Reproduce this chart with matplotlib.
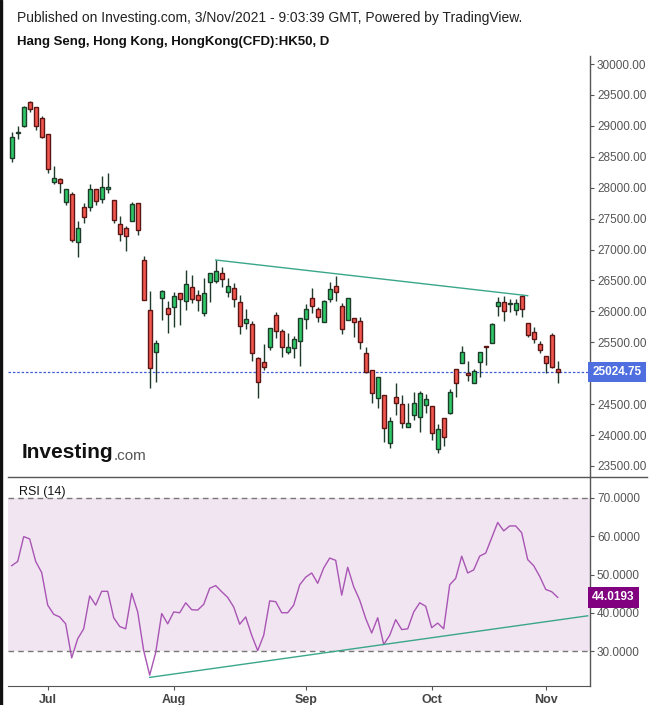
import matplotlib
matplotlib.use("Agg")
import matplotlib.pyplot as plt
import numpy as np

plt.rcParams['font.family'] = ['Liberation Sans', 'DejaVu Sans']

# daily OHLC, Jun 23 - Nov 3 2021 (trading days only)
opens = [28475, 28880, 29003, 29381, 29300, 29122, 28864, 28097, 28136, 27774,
         27893, 27127, 27683, 27693, 27974, 27813, 27974, 27796, 27408, 27344,
         27467, 27748, 26831, 26018, 25348, 26221, 26050, 26066, 26293, 26163,
         26390, 26270, 25969, 26470, 26496, 26626, 26309, 26373, 26147, 25807,
         25791, 25242, 25177, 25429, 25937, 25678, 25339, 25413, 25526, 25872,
         26212, 26034, 25833, 26205, 26406, 26082, 25866, 25888, 25840, 25322,
         25047, 24595, 24643, 23867, 24621, 24498, 24135, 24330, 24287, 24491,
         24475, 23770, 24271, 24352, 25064, 25161, 24999, 24837, 25187, 25436,
         25484, 26082, 26147, 26115, 26027, 26244, 25807, 25662, 25468, 25274,
         25613, 25064]
highs = [28896, 28998, 29321, 29402, 29300, 29160, 28864, 28351, 28152, 27974,
         27926, 27462, 27748, 28060, 27974, 28189, 28243, 27796, 27543, 27381,
         27764, 27748, 26896, 26330, 25537, 26346, 26173, 26314, 26293, 26669,
         26588, 26346, 26535, 26616, 26831, 26713, 26535, 26454, 26265, 26034,
         25845, 25258, 25473, 25727, 25990, 25710, 25646, 25602, 25888, 26120,
         26373, 26076, 26184, 26475, 26572, 26141, 26212, 25888, 25905, 25419,
         25047, 24934, 24643, 24287, 24837, 24648, 24514, 24692, 24713, 24659,
         24475, 24179, 24271, 24740, 25064, 25440, 25198, 25064, 25339, 25436,
         25807, 26228, 26249, 26200, 26200, 26265, 25807, 25743, 25521, 25274,
         25646, 25198]
lows = [28421, 28793, 28987, 29229, 28933, 28810, 28243, 28060, 27919, 27720,
        27127, 26884, 27434, 27628, 27720, 27758, 27910, 27424, 27143, 26981,
        27467, 27240, 26189, 24766, 24863, 25861, 25655, 25753, 25780, 26023,
        26141, 26011, 25930, 26157, 26454, 26399, 26228, 26066, 25630, 25715,
        25203, 24604, 25052, 25376, 25565, 25267, 25311, 25242, 25117, 25710,
        25969, 25833, 25833, 26157, 26173, 25634, 25866, 25591, 25397, 25009,
        24524, 24443, 23893, 23786, 24325, 24110, 24135, 24244, 24055, 24362,
        23920, 23705, 23828, 24341, 24611, 25161, 24879, 24837, 24944, 25133,
        25484, 25926, 25850, 25995, 25942, 25914, 25581, 25494, 25332, 24999,
        25080, 24837]
closes = [28825, 28900, 29300, 29268, 29003, 28825, 28307, 28152, 28081, 27974,
          27159, 27344, 27522, 27974, 27790, 28007, 28007, 27483, 27256, 27224,
          27737, 27321, 26189, 25090, 25489, 26325, 25963, 26244, 26196, 26438,
          26205, 26179, 26293, 26616, 26658, 26519, 26411, 26196, 25759, 25872,
          25322, 24853, 25106, 25727, 25688, 25419, 25419, 25549, 25888, 26034,
          26092, 25905, 26163, 26357, 26318, 25720, 26212, 25824, 25500, 25025,
          24676, 24934, 24110, 24223, 24514, 24190, 24200, 24514, 24676, 24579,
          24038, 24103, 23964, 24701, 24837, 25339, 24967, 25036, 25339, 25419,
          25791, 26147, 26011, 26131, 26131, 26044, 25623, 25554, 25381, 25161,
          25106, 25024.75]

rsi = [52.3, 53.4, 59.9, 59.3, 53.4, 50.5, 42.0, 39.6, 38.9, 37.1,
       28.2, 33.2, 35.8, 44.4, 42.0, 45.6, 45.6, 38.7, 36.4, 35.8,
       45.1, 40.2, 30.1, 23.7, 29.6, 39.8, 37.1, 40.2, 40.0, 42.6,
       40.8, 40.7, 42.2, 46.4, 47.1, 45.5, 44.0, 41.5, 37.0, 38.9,
       34.1, 30.1, 34.1, 43.1, 42.9, 40.0, 40.0, 42.0, 47.3, 49.3,
       50.4, 47.7, 51.7, 54.3, 53.7, 44.6, 51.9, 46.8, 43.3, 38.5,
       34.7, 38.7, 31.7, 34.1, 38.2, 35.6, 35.8, 40.2, 42.6, 41.7,
       36.1, 37.3, 35.8, 47.3, 49.0, 54.8, 50.4, 51.2, 54.8, 55.6,
       59.6, 63.6, 61.4, 62.7, 62.7, 60.9, 53.9, 52.3, 49.5, 46.1,
       45.5, 44.0193]

month_idx = [6, 27, 49, 70, 89]
month_labels = ['Jul', 'Aug', 'Sep', 'Oct', 'Nov']
# 25000 is hidden behind the last-price label
price_ticks = [23500, 24000, 24500, 25500, 26000, 26500, 27000, 27500,
               28000, 28500, 29000, 29500, 30000]
rsi_ticks = [30, 40, 50, 60, 70]

# drawn trendlines (index, value)
price_trend = ([34, 86], [26831, 26254])
rsi_trend = ([23, 96], [23.1, 39.2])

W, H = 654, 705
fig = plt.figure(figsize=(W / 100, H / 100), dpi=100)

def fx(px):
    return px / W

def fy(py):
    return 1 - py / H

left, right = 8, 590
ax = fig.add_axes([fx(left), fy(477), fx(right - left), fy(56) - fy(477)])
ax2 = fig.add_axes([fx(left), fy(686), fx(right - left), fy(477) - fy(686)], sharex=ax)

n = len(closes)
x = np.arange(n)
o = np.array(opens, float)
c = np.array(closes, float)
up = c >= o
green, red = '#2ec866', '#f2574f'
gedge, redge = '#1e3b2a', '#5c1515'

ax.vlines(x, lows, highs, color=gedge, lw=1.0, zorder=2)
bottoms = np.minimum(o, c)
heights = np.maximum(np.abs(c - o), 12)
ax.bar(x[up], heights[up], bottom=bottoms[up], width=0.72, color=green,
       edgecolor=gedge, linewidth=1.0, zorder=3)
ax.bar(x[~up], heights[~up], bottom=bottoms[~up], width=0.72, color=red,
       edgecolor=redge, linewidth=1.0, zorder=3)

ax.plot(price_trend[0], price_trend[1], color='#3aa68a', lw=1.0, zorder=4)
last = closes[-1]
ax.axhline(last, color='#3d5bd9', lw=0.9, ls=(0, (2, 1.5)), zorder=1)

ax.set_xlim((left - 11.7) / 6.0, (right - 11.7) / 6.0)
ax.set_ylim(23500 - 11 * 16.17, 23500 + 410 * 16.17)

for a in (ax, ax2):
    for s in ('left', 'top', 'bottom'):
        a.spines[s].set_visible(False)
    a.spines['right'].set_color('#555555')
    a.spines['right'].set_linewidth(1.0)
    a.yaxis.tick_right()
    a.tick_params(axis='y', direction='out', length=3, width=0.8, colors='#555555',
                  labelsize=8.5, pad=2)

ax.set_yticks(price_ticks)
ax.set_yticklabels([f'{v:.2f}' for v in price_ticks], color='#555555')
ax.tick_params(axis='x', bottom=False, labelbottom=False)

ax.text(1.004, last, f'{last:.2f}', transform=ax.get_yaxis_transform(),
        ha='left', va='center', fontsize=8.5, fontweight='bold', color='white',
        bbox=dict(boxstyle='square,pad=0.35', fc='#4f6fe0', ec='none'), zorder=5)

# RSI pane
ax2.axhspan(30, 70, color='#f2e5f2', zorder=0, lw=0)
ax2.axhline(70, color='#777777', lw=1.0, ls=(0, (4, 3)))
ax2.axhline(30, color='#777777', lw=1.0, ls=(0, (4, 3)))
ax2.plot(x, rsi, color='#a855b4', lw=1.0, zorder=3)
ax2.plot(rsi_trend[0], rsi_trend[1], color='#3aa68a', lw=1.0, zorder=4)
ax2.set_ylim(30 - 35 / 3.825, 70 + 21 / 3.825)
ax2.set_yticks(rsi_ticks)
ax2.set_yticklabels([f'{v:.4f}' for v in rsi_ticks], color='#555555')
ax2.spines['bottom'].set_visible(True)
ax2.spines['bottom'].set_color('#555555')
ax2.set_xticks(month_idx)
ax2.set_xticklabels(month_labels)
ax2.tick_params(axis='x', direction='out', length=3, colors='#555555', labelsize=9, pad=3)
for t in ax2.get_xticklabels():
    t.set_fontweight('bold')
    t.set_color('#444444')
ax2.text(1.004, rsi[-1], f'{rsi[-1]:.4f}', transform=ax2.get_yaxis_transform(),
         ha='left', va='center', fontsize=8.5, fontweight='bold', color='white',
         bbox=dict(boxstyle='square,pad=0.35', fc='#800080', ec='none'), zorder=5)
ax2.text((19 - left) / (right - left), 0.93, 'RSI (14)', transform=ax2.transAxes,
         fontsize=9, color='#111111', va='center')

# separator line between panes
fig.add_artist(plt.Line2D([fx(left), fx(647)], [fy(477), fy(477)], color='#555555', lw=1.0))

# header and logo
fig.text(fx(17), fy(18), 'Published on Investing.com, 3/Nov/2021 - 9:03:39 GMT, Powered by TradingView.',
         fontsize=10, color='#222222', va='center')
fig.text(fx(17), fy(42), 'Hang Seng, Hong Kong, HongKong(CFD):HK50, D',
         fontsize=9.5, fontweight='bold', color='#111111', va='center')
t1 = fig.text(fx(22), fy(453), 'Investing', fontsize=15, fontweight='bold', color='#111111', va='center')
fig.canvas.draw()
bb = t1.get_window_extent()
fig.text(bb.x1 / W, fy(456), '.com', fontsize=11, color='#555555', va='center')

# dark left border
fig.add_artist(plt.Rectangle((0, 0), fx(2), 1, color='#111111', transform=fig.transFigure))

fig.savefig('out.png', dpi=100)
